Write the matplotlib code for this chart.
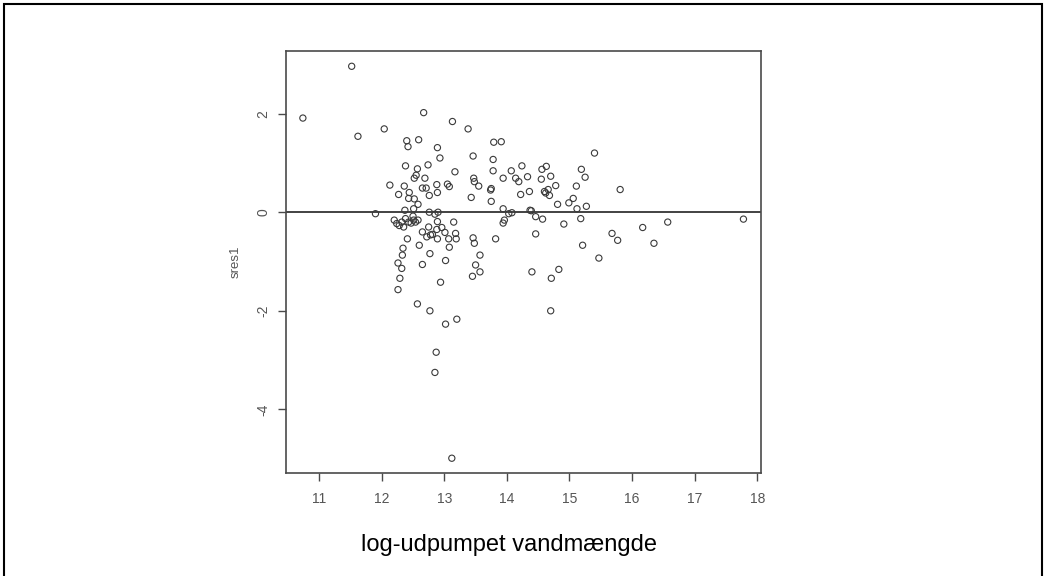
"""Standardised residuals (sres1) against log pumped water volume."""

import matplotlib

matplotlib.use("Agg")
import matplotlib.pyplot as plt
from matplotlib.patches import Rectangle

# ── Data ───────────────────────────────────────────────────────────────────
log_volume = [
    10.74, 11.52, 11.62, 12.04, 11.90, 12.13, 12.20, 12.24, 12.27, 12.28,
    12.26, 12.29, 12.26, 12.32, 12.33, 12.34, 12.32, 12.35, 12.38, 12.37,
    12.36, 12.38, 12.40, 12.42, 12.41, 12.43, 12.44, 12.43, 12.47, 12.51,
    12.50, 12.51, 12.52, 12.54, 12.58, 12.52, 12.55, 12.57, 12.59, 12.58,
    12.57, 12.60, 12.65, 12.65, 12.65, 12.67, 12.69, 12.71, 12.72, 12.74,
    12.76, 12.76, 12.78, 12.77, 12.77, 12.75, 12.81, 12.85, 12.88, 12.87,
    12.85, 12.89, 12.89, 12.90, 12.89, 12.88, 12.89, 12.93, 12.94, 12.96,
    13.01, 13.02, 13.02, 13.05, 13.08, 13.07, 13.08, 13.13, 13.15, 13.17,
    13.18, 13.19, 13.20, 13.12, 13.38, 13.43, 13.46, 13.46, 13.47, 13.48,
    13.48, 13.45, 13.50, 13.55, 13.57, 13.57, 13.74, 13.75, 13.75, 13.78,
    13.78, 13.79, 13.91, 13.82, 13.94, 13.94, 13.94, 13.96, 14.03, 14.08,
    14.07, 14.14, 14.19, 14.22, 14.24, 14.33, 14.36, 14.37, 14.39, 14.40,
    14.46, 14.46, 14.55, 14.56, 14.57, 14.60, 14.62, 14.63, 14.66, 14.68,
    14.70, 14.70, 14.71, 14.78, 14.81, 14.83, 14.91, 14.99, 15.06, 15.11,
    15.12, 15.19, 15.18, 15.21, 15.25, 15.27, 15.40, 15.47, 15.68, 15.77,
    15.81, 16.17, 16.35, 16.57, 17.78,
]
sres1 = [
    1.91, 2.96, 1.54, 1.69, -0.03, 0.55, -0.16, -0.23, 0.36, -0.27,
    -1.03, -1.34, -1.57, -1.14, -0.87, -0.73, -0.20, -0.30, -0.13, 0.04,
    0.53, 0.94, 1.45, 1.33, -0.54, 0.28, 0.40, -0.20, -0.22, -0.16,
    -0.08, 0.07, 0.27, -0.20, -0.16, 0.69, 0.75, 0.88, 1.47, 0.16,
    -1.86, -0.67, -0.40, 0.49, -1.06, 2.02, 0.69, 0.49, -0.50, 0.96,
    0.34, 0.00, -0.46, -0.84, -2.00, -0.30, -0.45, -0.04, 0.56, -2.84,
    -3.25, 1.31, 0.40, 0.00, -0.19, -0.35, -0.54, 1.10, -1.42, -0.31,
    -0.41, -0.98, -2.27, 0.57, 0.52, -0.54, -0.71, 1.84, -0.20, 0.82,
    -0.43, -0.54, -2.17, -4.99, 1.69, 0.30, 1.14, -0.52, 0.69, 0.62,
    -0.63, -1.30, -1.07, 0.53, -0.87, -1.21, 0.45, 0.48, 0.22, 1.07,
    0.84, 1.42, 1.43, -0.54, 0.69, 0.07, -0.22, -0.16, -0.03, -0.01,
    0.84, 0.69, 0.62, 0.36, 0.94, 0.72, 0.42, 0.04, 0.03, -1.21,
    -0.44, -0.09, 0.67, 0.87, -0.14, 0.42, 0.39, 0.93, 0.46, 0.34,
    0.73, -2.00, -1.34, 0.54, 0.16, -1.16, -0.24, 0.19, 0.28, 0.53,
    0.07, 0.87, -0.13, -0.67, 0.71, 0.12, 1.20, -0.93, -0.43, -0.57,
    0.46, -0.31, -0.63, -0.20, -0.14,
]
x_ticks = [11, 12, 13, 14, 15, 16, 17, 18]
y_ticks = [-4, -2, 0, 2]

X_LABEL = "log-udpumpet vandmængde"
Y_LABEL = "sres1"

FRAME = "#4a4a4a"
TEXT_GREY = "#555555"


def main() -> None:
    plt.rcParams["font.family"] = ["Liberation Sans", "DejaVu Sans"]

    fig = plt.figure(figsize=(10.46, 5.76), dpi=100)
    ax = fig.add_axes([0.2734, 0.1788, 0.4541, 0.7335])

    ax.scatter(
        log_volume, sres1, s=20, facecolors="none", edgecolors="#3a3a3a",
        linewidths=0.8, zorder=3,
    )
    ax.axhline(0, color="#222222", linewidth=1.2, zorder=2)

    ax.set_xlim(10.47, 18.06)
    ax.set_ylim(-5.29, 3.28)
    ax.set_xticks(x_ticks)
    ax.set_yticks(y_ticks)
    ax.set_yticklabels([str(v) for v in y_ticks], rotation=90, va="center")

    for side in ax.spines.values():
        side.set_color(FRAME)
        side.set_linewidth(1.2)
    ax.tick_params(
        axis="both", direction="out", length=6, width=1.0, color=FRAME,
        labelsize=10, labelcolor=TEXT_GREY,
    )
    ax.tick_params(axis="x", pad=8)
    ax.tick_params(axis="y", pad=5)

    ax.set_ylabel(Y_LABEL, fontsize=9.5, color=TEXT_GREY)
    ax.yaxis.set_label_coords(-0.094, 0.5)

    fig.text(509 / 1046, 1 - 545 / 576, X_LABEL, fontsize=17, color="black",
             ha="center", va="center")

    # border round the whole picture
    fig.patches.append(
        Rectangle((0.004, -0.02), 0.992, 1.013, transform=fig.transFigure,
                  fill=False, edgecolor="black", linewidth=1.5)
    )

    fig.savefig("out.png", dpi=100)
    plt.close(fig)


if __name__ == "__main__":
    main()
